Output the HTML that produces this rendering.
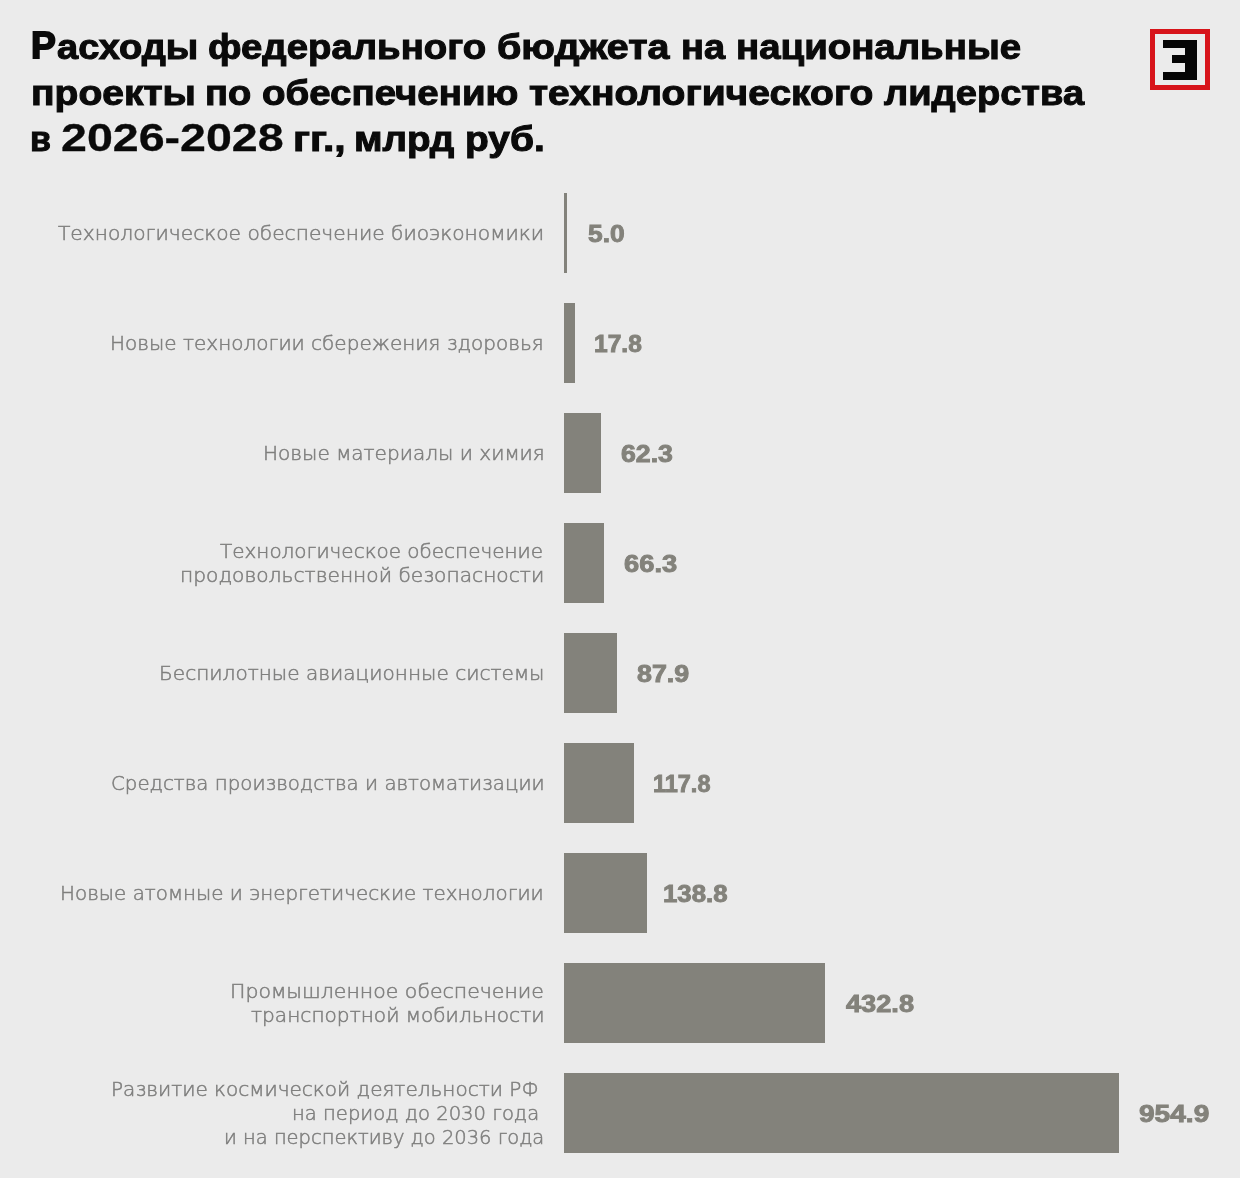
<!DOCTYPE html>
<html lang="ru"><head><meta charset="utf-8"><title>Расходы федерального бюджета на национальные проекты</title>
<style>
html,body{margin:0;padding:0}
body{width:1240px;height:1178px;background:#ebebeb;position:relative;overflow:hidden}
span{position:absolute;white-space:nowrap;transform-origin:0 0;display:block}
.t{font:bold 34.2px/46px 'Liberation Sans', sans-serif;color:#0a0a0a;-webkit-text-stroke:1.0px #0a0a0a}
.c{font-size:38.3px}
.l{font:200 18.6px/30px 'DejaVu Sans Light', 'DejaVu Sans', sans-serif;color:#7f7f7e;-webkit-text-stroke:0.5px #7f7f7e}
.v{font:bold 23.0px/30px 'Liberation Sans', sans-serif;color:#83827b;-webkit-text-stroke:0.9px #83827b}
.bar{position:absolute;left:564px;height:79.7px;background:#83827b}
h1,p{margin:0;font-size:0}
.logo{position:absolute;left:1150px;top:29.1px;width:50px;height:50.8px;border:5px solid #d7141a}
.logo i{position:absolute;background:#050505}
</style></head><body>
<h1><span class="t" style="font-size:37.4px;-webkit-text-stroke-width:1.8px;left:31.17px;top:22px;transform:scaleX(0.9948)">Р</span><span class="t" style="left:56.96px;top:24px;transform:scaleX(1.1120)">асходы</span> <span class="t" style="left:208.16px;top:24px;transform:scaleX(1.1214)">федерального</span> <span class="t" style="left:497.44px;top:24px;transform:scaleX(1.1523)">бюджета</span> <span class="t" style="left:680.88px;top:24px;transform:scaleX(1.1121)">на</span> <span class="t" style="left:735.96px;top:24px;transform:scaleX(1.1229)">национальные</span> 
<span class="t" style="left:30.63px;top:70px;transform:scaleX(1.1411)">проекты</span> <span class="t" style="left:205.38px;top:70px;transform:scaleX(1.1122)">по</span> <span class="t" style="left:261.56px;top:70px;transform:scaleX(1.1239)">обеспечению</span> <span class="t" style="left:528.66px;top:70px;transform:scaleX(1.1403)">технологического</span> <span class="t" style="left:883.76px;top:70px;transform:scaleX(1.1136)">лидерства</span> 
<span class="t" style="left:30.27px;top:116px;transform:scaleX(0.9982)">в</span> <span class="t" style="font-size:39.6px;-webkit-text-stroke-width:0.3px;left:60.72px;top:114px;transform:scaleX(1.1763)">2026-2028</span> <span class="t" style="left:292.64px;top:116px;transform:scaleX(1.1953)">гг.,</span> <span class="t" style="left:354.05px;top:116px;transform:scaleX(1.1283)">млрд</span> <span class="t" style="left:465.04px;top:116px;transform:scaleX(1.1385)">руб.</span> 
</h1>
<div class="logo"><i style="left:8.2px;top:5.6px;width:33.3px;height:8px"></i><i style="left:16.8px;top:20.6px;width:24.7px;height:7.9px"></i><i style="left:8.2px;top:37.5px;width:33.3px;height:8.3px"></i><i style="left:30px;top:5.6px;width:11.5px;height:40.2px"></i></div>
<div class="row"><p><span class="l" style="left:58.26px;top:219px;transform:scaleX(1.0865)">Технологическое обеспечение биоэкономики</span></p><div class="bar" style="top:193px;width:2.7px"></div><span class="v" style="left:587.90px;top:219px;transform:scaleX(1.1462)">5.0</span></div>
<div class="row"><p><span class="l" style="left:110.48px;top:329px;transform:scaleX(1.0766)">Новые технологии сбережения здоровья</span></p><div class="bar" style="top:303px;width:11px"></div><span class="v" style="left:594.45px;top:329px;transform:scaleX(1.0675)">17.8</span></div>
<div class="row"><p><span class="l" style="left:262.58px;top:439px;transform:scaleX(1.0788)">Новые материалы и химия</span></p><div class="bar" style="top:413px;width:37px"></div><span class="v" style="left:621.39px;top:439px;transform:scaleX(1.1606)">62.3</span></div>
<div class="row"><p><span class="l" style="left:220.36px;top:537px;transform:scaleX(1.0744)">Технологическое обеспечение</span> <span class="l" style="left:180.06px;top:561px;transform:scaleX(1.0864)">продовольственной безопасности</span></p><div class="bar" style="top:523px;width:40px"></div><span class="v" style="left:624.28px;top:549px;transform:scaleX(1.1877)">66.3</span></div>
<div class="row"><p><span class="l" style="left:158.77px;top:659px;transform:scaleX(1.0805)">Беспилотные авиационные системы</span></p><div class="bar" style="top:633px;width:53px"></div><span class="v" style="left:637.09px;top:659px;transform:scaleX(1.1674)">87.9</span></div>
<div class="row"><p><span class="l" style="left:110.72px;top:769px;transform:scaleX(1.0649)">Средства производства и автоматизации</span></p><div class="bar" style="top:743px;width:70px"></div><span class="v" style="left:652.99px;top:769px;transform:scaleX(1.0204)">117.8</span></div>
<div class="row"><p><span class="l" style="left:60.49px;top:879px;transform:scaleX(1.0708)">Новые атомные и энергетические технологии</span></p><div class="bar" style="top:853px;width:83px"></div><span class="v" style="left:663.39px;top:879px;transform:scaleX(1.1214)">138.8</span></div>
<div class="row"><p><span class="l" style="left:229.54px;top:977px;transform:scaleX(1.1010)">Промышленное обеспечение</span> <span class="l" style="left:250.84px;top:1001px;transform:scaleX(1.0825)">транспортной мобильности</span></p><div class="bar" style="top:963px;width:261px"></div><span class="v" style="left:846.33px;top:989px;transform:scaleX(1.1817)">432.8</span></div>
<div class="row"><p><span class="l" style="left:111.48px;top:1075px;transform:scaleX(1.0784)">Развитие космической деятельности РФ</span> <span class="l" style="left:292.02px;top:1099px;transform:scaleX(1.0535)">на период до 2030 года</span> <span class="l" style="left:223.93px;top:1123px;transform:scaleX(1.0476)">и на перспективу до 2036 года</span></p><div class="bar" style="top:1073px;width:555px"></div><span class="v" style="left:1138.87px;top:1099px;transform:scaleX(1.2210)">954.9</span></div>
</body></html>
